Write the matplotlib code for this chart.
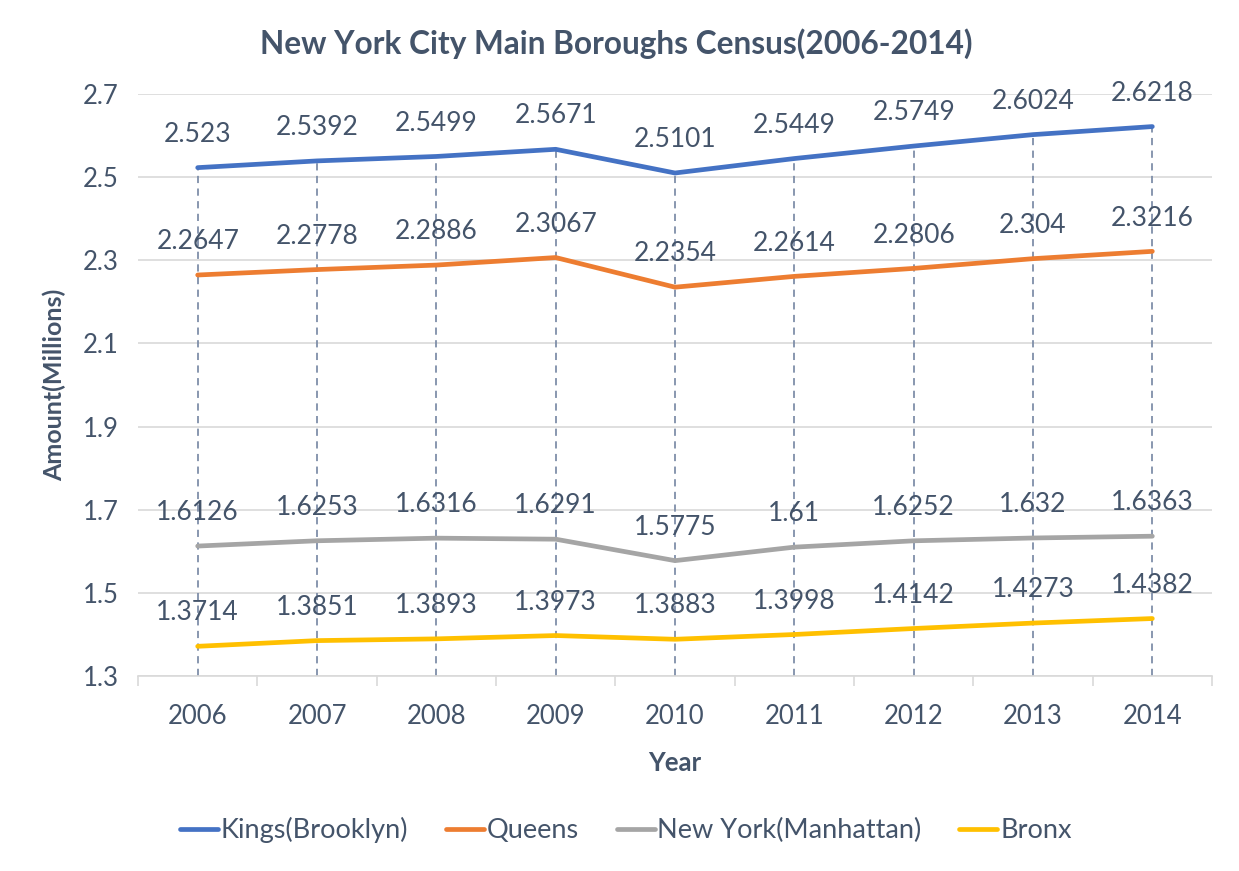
import matplotlib
matplotlib.use("Agg")
import matplotlib.pyplot as plt

years = ["2006", "2007", "2008", "2009", "2010", "2011", "2012", "2013", "2014"]
brooklyn = [2.523, 2.5392, 2.5499, 2.5671, 2.5101, 2.5449, 2.5749, 2.6024, 2.6218]
queens = [2.2647, 2.2778, 2.2886, 2.3067, 2.2354, 2.2614, 2.2806, 2.304, 2.3216]
manhattan = [1.6126, 1.6253, 1.6316, 1.6291, 1.5775, 1.61, 1.6252, 1.632, 1.6363]
bronx = [1.3714, 1.3851, 1.3893, 1.3973, 1.3883, 1.3998, 1.4142, 1.4273, 1.4382]
series_names = ["Kings(Brooklyn)", "Queens", "New York(Manhattan)", "Bronx"]
yticks = [1.3, 1.5, 1.7, 1.9, 2.1, 2.3, 2.5, 2.7]

plt.rcParams['font.family'] = ['Lato', 'DejaVu Sans']
txt = '#44546a'
colors = ['#4472C4', '#ED7D31', '#A5A5A5', '#FFC000']

fig = plt.figure(figsize=(12.39, 8.71), dpi=100)
ax = fig.add_axes([0.1114, 0.2239, 0.8668, 0.6681])
x = list(range(len(years)))

ymin, ymax = 1.3, 2.7
# drop lines
tops = [max(vals) for vals in zip(brooklyn, queens, manhattan, bronx)]
ax.vlines(x, ymin, tops, colors='#7f8fa9', linestyles=(0, (4, 3)), linewidth=1.3, zorder=2)

for vals, name, c in zip([brooklyn, queens, manhattan, bronx], series_names, colors):
    ax.plot(x, vals, color=c, lw=3.4, label=name, zorder=3, solid_capstyle='round')
    for xi, v in zip(x, vals):
        ax.annotate(f"{v:g}", (xi, v), xytext=(0, 15), textcoords='offset points',
                    ha='center', va='bottom', fontsize=19, color=txt, zorder=4)

ax.set_xlim(-0.5, len(years) - 0.5)
ax.set_ylim(ymin, ymax)
ax.set_yticks(yticks)
ax.set_yticklabels([f"{t:g}" for t in yticks])
ax.set_xticks(x)
ax.set_xticklabels(years)
ax.set_xticks([i - 0.5 for i in range(len(years) + 1)], minor=True)
ax.tick_params(axis='x', which='major', length=0, pad=20, labelsize=18.5, labelcolor=txt)
ax.tick_params(axis='x', which='minor', length=7, color='#d9d9d9', width=1.2)
ax.tick_params(axis='y', length=0, pad=14, labelsize=18.5, labelcolor=txt)
ax.grid(axis='y', color='#d9d9d9', lw=1.2, zorder=0)
for s in ['top', 'right', 'left']:
    ax.spines[s].set_visible(False)
ax.spines['bottom'].set_color('#d9d9d9')
ax.spines['bottom'].set_linewidth(1.2)

ax.set_xlabel("Year", fontsize=18.5, fontweight='bold', color=txt, labelpad=16)
ax.set_ylabel("Amount(Millions)", fontsize=18, fontweight='bold', color=txt, labelpad=12)
fig.suptitle("New York City Main Boroughs Census(2006-2014)", x=0.497, y=0.968,
             fontsize=22.8, fontweight='bold', color=txt)

leg = fig.legend(loc='center', bbox_to_anchor=(0.505, 0.047), ncol=4, frameon=False,
                 fontsize=19.5, handlelength=1.4, handletextpad=0.1, columnspacing=1.4)
for t in leg.get_texts():
    t.set_color(txt)

fig.savefig("out.png", dpi=100)
